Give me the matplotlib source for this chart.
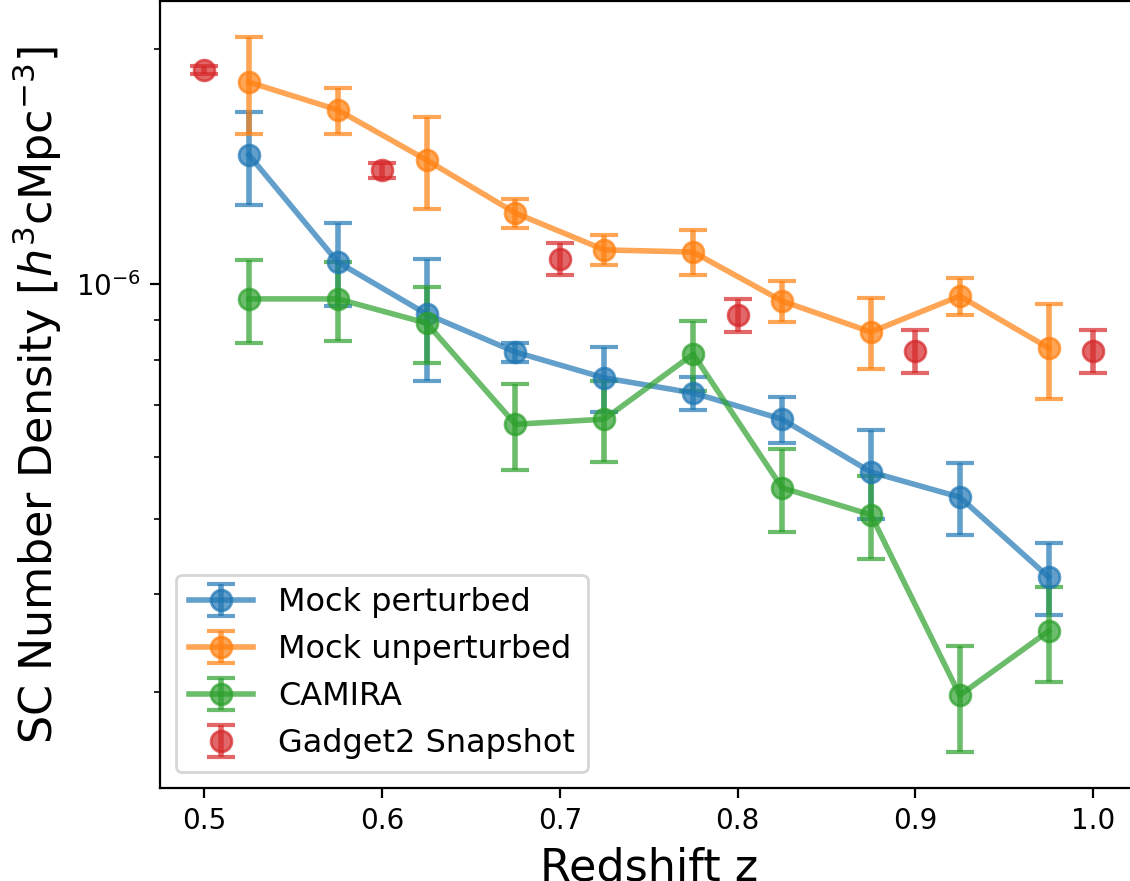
import numpy as np
from matplotlib import pyplot as plt

# redshift bins
z_mock = [0.525, 0.575, 0.625, 0.675, 0.725, 0.775, 0.825, 0.875, 0.925, 0.975]
z_snap = [0.5, 0.6, 0.7, 0.8, 0.9, 1.0]

# number densities in units of 1e-6 h^3 cMpc^-3
perturbed = [1.464, 1.067, 0.915, 0.818, 0.758, 0.725, 0.671, 0.574, 0.533, 0.421]
perturbed_err = [0.20, 0.129, 0.163, 0.023, 0.072, 0.035, 0.045, 0.075, 0.057, 0.045]

unperturbed = [1.815, 1.672, 1.442, 1.233, 1.106, 1.099, 0.951, 0.868, 0.965, 0.828]
unperturbed_err = [0.257, 0.114, 0.195, 0.053, 0.049, 0.073, 0.058, 0.091, 0.053, 0.116]

camira = [0.957, 0.957, 0.891, 0.661, 0.671, 0.813, 0.548, 0.506, 0.297, 0.359]
camira_err = [0.117, 0.111, 0.099, 0.083, 0.080, 0.084, 0.067, 0.062, 0.046, 0.050]

snapshot = [1.881, 1.400, 1.077, 0.913, 0.821, 0.821]
snapshot_err = [0.023, 0.031, 0.051, 0.045, 0.051, 0.051]


if __name__ == '__main__':
    scale = 1e-6
    style = dict(capsize=5, alpha=0.7, markersize=7.5, lw=2, elinewidth=2, capthick=1.5)
    fig = plt.figure(figsize=(5.65, 4.405), dpi=200)
    ax = fig.add_axes([160 / 1130, 1 - 788 / 881, (1137.5 - 160) / 1130, (788 - 1.5) / 881])

    ax.errorbar(z_mock, np.array(perturbed) * scale, yerr=np.array(perturbed_err) * scale,
                fmt='o-', label="Mock perturbed", **style)
    ax.errorbar(z_mock, np.array(unperturbed) * scale, yerr=np.array(unperturbed_err) * scale,
                fmt='o-', label="Mock unperturbed", **style)
    ax.errorbar(z_mock, np.array(camira) * scale, yerr=np.array(camira_err) * scale,
                fmt='o-', label="CAMIRA", **style)
    ax.errorbar(z_snap, np.array(snapshot) * scale, yerr=np.array(snapshot_err) * scale,
                fmt='o', label="Gadget2 Snapshot", **style)

    ax.set_yscale('log')
    ax.set_xlabel("Redshift z", fontsize=16)
    ax.set_ylabel(r"SC Number Density [$h^3$cMpc$^{-3}$]", fontsize=16)
    ax.legend(loc='lower left', fontsize=11.5)
    fig.savefig("out.png", dpi=200)
